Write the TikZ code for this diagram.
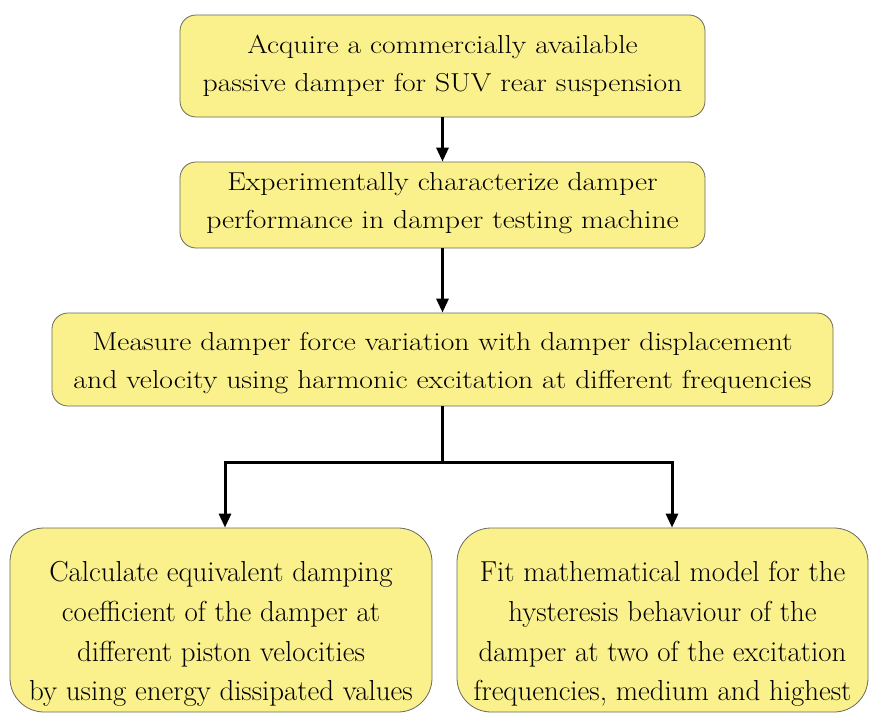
\documentclass[tikz,border=0pt]{standalone}
\usepackage{fontspec}
\setmainfont{Latin Modern Roman}
\newfontfamily\widefont{Latin Modern Roman}[FakeStretch=1.145]
\usetikzlibrary{arrows.meta}
\definecolor{boxfill}{RGB}{250,240,140}
\definecolor{boxline}{RGB}{105,105,95}
\begin{document}
\begin{tikzpicture}[x=1bp,y=-1bp,
  stepbox/.style={draw=boxline, line width=0.8bp, fill=boxfill, rounded corners=16bp, inner sep=0pt},
  toptext/.style={align=center, inner sep=0pt, font=\widefont\fontsize{26}{38}\selectfont},
  bigbox/.style={stepbox, rounded corners=34bp, minimum height=184bp},
  bigtext/.style={align=center, inner sep=0pt, font=\fontsize{29}{40}\selectfont},
  flow/.style={line width=3bp, -{Triangle[length=14bp,width=12bp]}}]
\useasboundingbox (0,0) rectangle (877,713);
% boxes
\node[stepbox, minimum width=525bp, minimum height=102bp] (a) at (442.5,66) {};
\node[stepbox, minimum width=525bp, minimum height=86bp] (b) at (442.5,205) {};
\node[stepbox, minimum width=781bp, minimum height=93bp] (c) at (442.5,359.5) {};
\node[bigbox, minimum width=422bp] (d) at (221,620) {};
\node[bigbox, minimum width=411bp] (e) at (662.5,620) {};
% texts
\node[toptext] (at) at (442.5,66)
  {Acquire a commercially available\\passive damper for SUV rear suspension};
\node[toptext] (bt) at (442.5,203)
  {Experimentally characterize damper\\performance in damper testing machine};
\node[toptext, font=\widefont\fontsize{26}{39}\selectfont] (ct) at (442.5,363)
  {Measure damper force variation with damper displacement\\and velocity using harmonic excitation at different frequencies};
\node[bigtext] (dt) at (221,634)
  {Calculate equivalent damping\\coefficient of the damper at\\different piston velocities\\by using energy dissipated values};
\node[bigtext] (et) at (662.5,634)
  {Fit mathematical model for the\\hysteresis behaviour of the\\damper at two of the excitation\\frequencies, medium and highest};
% connectors
\coordinate (j) at (442.5,462);
\draw[flow] (a) -- (b);
\draw[flow] (b) -- (c);
\draw[line width=3bp] (c) -- (j);
\draw[flow] (j) -| (d.north -| 225,0);
\draw[flow] (j) -| (e.north -| 672,0);
\end{tikzpicture}
\end{document}
